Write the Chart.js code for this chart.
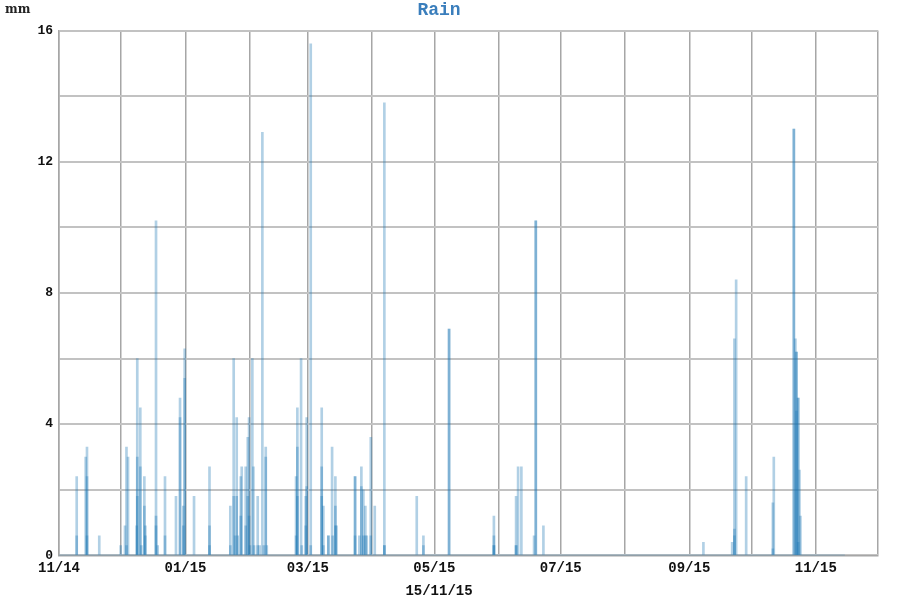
<!DOCTYPE html>
<html lang="en">
<head>
<meta charset="UTF-8">
<title>Rain</title>
<style>
  html, body { margin: 0; padding: 0; background: #fff; }
  #wrap { position: relative; width: 900px; height: 600px; }
  #unit { position: absolute; left: 5px; top: 2px; font: bold 12px "DejaVu Serif", serif; color: #222; }
</style>
</head>
<body>
<div id="wrap">
  <canvas id="chart" width="900" height="600"></canvas>
  <div id="unit">mm</div>
</div>

<script src="https://cdn.jsdelivr.net/npm/chart.js@4"></script>
<script>
  // rain readings (UTC), one value per reading, same order in both arrays
  const rainTimes = [
    '2014-11-09T13:00', '2014-11-09T13:00', '2014-11-13T21:00', '2014-11-14T12:00', '2014-11-14T12:00',
    '2014-11-14T12:00', '2014-11-20T10:00', '2014-11-30T18:00',
    '2014-12-02T20:00', '2014-12-03T13:00', '2014-12-03T13:00', '2014-12-04T07:00', '2014-12-08T11:00',
    '2014-12-08T18:00', '2014-12-08T18:00', '2014-12-08T18:00', '2014-12-10T05:00', '2014-12-10T05:00',
    '2014-12-10T17:00', '2014-12-12T04:00', '2014-12-12T04:00', '2014-12-12T15:00', '2014-12-12T15:00',
    '2014-12-17T19:00', '2014-12-17T19:00', '2014-12-17T19:00', '2014-12-18T14:00', '2014-12-22T03:00',
    '2014-12-22T03:00', '2014-12-27T10:00', '2014-12-29T09:00', '2014-12-29T09:00', '2014-12-30T23:00',
    '2014-12-30T23:00', '2014-12-31T15:00', '2014-12-31T15:00',
    '2015-01-05T03:00', '2015-01-12T14:00', '2015-01-12T14:00', '2015-01-12T14:00', '2015-01-22T15:00',
    '2015-01-22T15:00', '2015-01-24T06:00', '2015-01-24T06:00', '2015-01-24T22:00', '2015-01-25T17:00',
    '2015-01-25T17:00', '2015-01-26T05:00', '2015-01-27T16:00', '2015-01-27T16:00', '2015-01-28T03:00',
    '2015-01-30T01:00', '2015-01-30T01:00', '2015-01-31T01:00', '2015-01-31T01:00', '2015-01-31T16:00',
    '2015-01-31T16:00',
    '2015-02-01T03:00', '2015-02-02T06:00', '2015-02-02T18:00', '2015-02-03T02:00', '2015-02-04T20:00',
    '2015-02-04T20:00', '2015-02-05T19:00', '2015-02-07T02:00', '2015-02-07T18:00', '2015-02-08T17:00',
    '2015-02-08T17:00', '2015-02-09T05:00', '2015-02-23T08:00', '2015-02-23T08:00', '2015-02-23T23:00',
    '2015-02-23T23:00', '2015-02-23T23:00', '2015-02-25T18:00', '2015-02-26T02:00', '2015-02-28T00:00',
    '2015-02-28T00:00', '2015-02-28T11:00', '2015-02-28T11:00',
    '2015-03-02T10:00', '2015-03-02T10:00', '2015-03-07T17:00', '2015-03-07T17:00', '2015-03-07T17:00',
    '2015-03-08T12:00', '2015-03-08T12:00', '2015-03-10T22:00', '2015-03-10T22:00', '2015-03-12T17:00',
    '2015-03-13T00:00', '2015-03-14T07:00', '2015-03-14T07:00', '2015-03-14T07:00', '2015-03-14T20:00',
    '2015-03-23T19:00', '2015-03-23T19:00', '2015-03-23T19:00', '2015-03-25T21:00', '2015-03-26T20:00',
    '2015-03-26T20:00', '2015-03-27T19:00', '2015-03-27T19:00', '2015-03-28T18:00', '2015-03-28T18:00',
    '2015-03-29T10:00', '2015-03-31T09:00', '2015-03-31T09:00',
    '2015-04-02T07:00', '2015-04-06T22:00', '2015-04-06T22:00', '2015-04-06T22:00', '2015-04-22T13:00',
    '2015-04-25T18:00', '2015-04-25T18:00',
    '2015-05-08T03:00', '2015-05-08T03:00', '2015-05-29T18:00', '2015-05-29T18:00', '2015-05-29T18:00',
    '2015-05-29T18:00',
    '2015-06-09T11:00', '2015-06-09T11:00', '2015-06-09T11:00', '2015-06-10T10:00', '2015-06-12T00:00',
    '2015-06-18T03:00', '2015-06-18T23:00', '2015-06-18T23:00', '2015-06-22T15:00',
    '2015-09-07T19:00', '2015-09-21T16:00', '2015-09-22T18:00', '2015-09-22T18:00', '2015-09-22T18:00',
    '2015-09-23T14:00', '2015-09-28T10:00',
    '2015-10-11T07:00', '2015-10-11T07:00', '2015-10-11T18:00', '2015-10-21T10:00', '2015-10-21T10:00',
    '2015-10-22T04:00', '2015-10-22T16:00', '2015-10-22T16:00', '2015-10-22T16:00', '2015-10-23T12:00',
    '2015-10-23T12:00', '2015-10-23T12:00', '2015-10-24T03:00', '2015-10-24T14:00'
  ];
  const rainValues = [
    2.4, 0.6, 3.0, 3.3, 2.4,
    0.6, 0.6, 0.3,
    0.9, 3.3, 0.3, 3.0, 0.9,
    6.0, 3.0, 1.8, 4.5, 2.7,
    0.3, 2.4, 1.5, 0.9, 0.6,
    10.2, 1.2, 0.9, 0.3, 2.4,
    0.6, 1.8, 4.8, 4.2, 1.5,
    0.9, 6.3, 5.4,
    1.8, 2.7, 0.9, 0.3, 1.5,
    0.3, 6.0, 1.8, 0.6, 4.2,
    1.8, 0.6, 2.4, 1.2, 2.7,
    2.7, 0.9, 3.6, 1.8, 4.2,
    1.2,
    0.3, 6.0, 2.7, 0.3, 1.8,
    0.3, 0.3, 12.9, 0.3, 3.3,
    3.0, 0.3, 2.4, 0.6, 4.5,
    3.3, 1.8, 6.0, 0.3, 1.8,
    0.9, 4.2, 2.1,
    15.6, 0.3, 4.5, 2.7, 1.8,
    1.5, 0.3, 0.6, 0.6, 3.3,
    0.6, 2.4, 1.5, 0.9, 0.9,
    2.4, 2.4, 0.6, 0.6, 2.7,
    2.1, 2.0, 0.6, 1.5, 0.6,
    0.6, 3.6, 0.6,
    1.5, 13.8, 0.3, 0.3, 1.8,
    0.6, 0.3,
    6.9, 6.9, 1.2, 0.6, 0.3,
    0.3,
    1.8, 0.3, 0.3, 2.7, 2.7,
    0.6, 10.2, 10.2, 0.9,
    0.4, 0.4, 6.6, 0.8, 0.6,
    8.4, 2.4,
    1.6, 0.2, 3.0, 13.0, 13.0,
    6.6, 6.2, 6.2, 4.4, 4.8,
    4.8, 0.4, 2.6, 1.2
  ];

  // period covered by the readings (zero line)
  const periodDates = ['2014-11-01T00:00', '2015-11-15T00:00'];

  const axisStart = '2014-11-01T00:00';
  const axisEnd = '2015-12-01T00:00';
  const monthTicks = ['2014-11-01', '2014-12-01', '2015-01-01', '2015-02-01', '2015-03-01', '2015-04-01', '2015-05-01',
                      '2015-06-01', '2015-07-01', '2015-08-01', '2015-09-01', '2015-10-01', '2015-11-01', '2015-12-01'];
  const tickLabels = ['11/14', '', '01/15', '', '03/15', '', '05/15', '', '07/15', '', '09/15', '', '11/15', ''];
  const yTicks = [0, 4, 8, 12, 16];

  const t0 = Date.parse(axisStart + 'Z');
  const dayOf = s => (Date.parse((s.length === 10 ? s + 'T00:00' : s) + 'Z') - t0) / 864e5;

  const mono = 'Liberation Mono, Courier New, monospace';

  new Chart(document.getElementById('chart'), {
    type: 'bar',
    data: {
      datasets: [
        {
          label: 'Rain',
          data: rainTimes.map((t, i) => ({ x: dayOf(t), y: rainValues[i] })),
          backgroundColor: 'rgba(31,119,180,0.35)',
          borderWidth: 0,
          barThickness: 2
        },
        {
          type: 'line',
          label: 'zero',
          data: periodDates.map(t => ({ x: dayOf(t), y: 0 })),
          borderColor: 'rgba(31,119,180,0.3)',
          borderWidth: 2,
          pointRadius: 0
        }
      ]
    },
    options: {
      responsive: false,
      animation: false,
      devicePixelRatio: 1,
      layout: { padding: { left: 0, right: 22, top: 0, bottom: 0 } },
      scales: {
        x: {
          type: 'linear',
          min: 0,
          max: dayOf(axisEnd),
          offset: false,
          afterBuildTicks: s => { s.ticks = monthTicks.map(d => ({ value: dayOf(d) })); },
          ticks: {
            autoSkip: false,
            maxRotation: 0,
            padding: 5,
            color: '#111',
            font: { family: mono, size: 14, weight: 'bold' },
            callback: (v, i) => tickLabels[i]
          },
          grid: { color: '#a6a6a6', lineWidth: 1.5, drawTicks: false, offset: false },
          border: { color: '#a6a6a6', width: 1.5 }
        },
        y: {
          min: 0,
          max: 16,
          afterFit: s => { s.width = 59; },
          ticks: {
            stepSize: 2,
            padding: 6,
            color: '#111',
            font: { family: mono, size: 13, weight: 'bold' },
            callback: v => yTicks.includes(v) ? v : ''
          },
          grid: { color: '#c2c2c2', lineWidth: 2, drawTicks: false },
          border: { color: '#a6a6a6', width: 1.5 }
        }
      },
      plugins: {
        legend: { display: false },
        tooltip: { enabled: false },
        title: {
          display: true,
          text: 'Rain',
          color: '#3a7ebc',
          font: { family: mono, size: 18, weight: 'bold' },
          padding: { top: 0, bottom: 9 }
        },
        subtitle: {
          display: true,
          position: 'bottom',
          text: '15/11/15',
          color: '#111',
          font: { family: mono, size: 14, weight: 'bold' },
          padding: { top: 1, bottom: 0 }
        }
      }
    }
  });
</script>
</body>
</html>
